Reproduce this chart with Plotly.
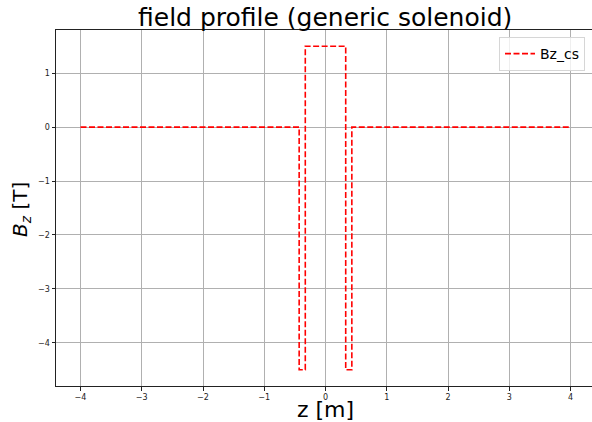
import plotly.graph_objects as go

z_vals = [-4.0, -0.43, -0.43, -0.33, -0.33, 0.33, 0.33, 0.43, 0.43, 4.0]
bz_vals = [0.0, 0.0, -4.5, -4.5, 1.5, 1.5, -4.5, -4.5, 0.0, 0.0]
x_ticks = [-4, -3, -2, -1, 0, 1, 2, 3, 4]
y_ticks = [-4, -3, -2, -1, 0, 1]

W, H = 597, 422
L, R, T, B = 56, 2, 30, 36

fig = go.Figure()
fig.add_trace(go.Scatter(x=z_vals, y=bz_vals, mode="lines", name="Bz_cs",
                         line=dict(color="red", width=1.6, dash="6px,2.5px")))

tickfont = dict(family="DejaVu Sans", size=8, color="#222")
axis_common = dict(showgrid=True, gridcolor="#b0b0b0", gridwidth=1, zeroline=False,
                   showline=True, linecolor="#222", linewidth=1, mirror=True,
                   ticks="outside", ticklen=3.5, tickcolor="#222", tickfont=tickfont,
                   automargin=False)

def px_x(p):
    return (p - L) / (W - L - R)

def px_y(p):
    return (H - B - p) / (H - T - B)

fig.update_layout(
    width=W, height=H,
    margin=dict(l=L, r=R, t=T, b=B, autoexpand=False),
    paper_bgcolor="white", plot_bgcolor="white",
    xaxis=dict(range=[-4.4, 4.4], tickvals=x_ticks,
               ticktext=[str(v).replace("-", "\u2212") for v in x_ticks],
               **axis_common),
    yaxis=dict(range=[-4.8, 1.8], tickvals=y_ticks,
               ticktext=[str(v).replace("-", "\u2212") for v in y_ticks],
               **axis_common),
    legend=dict(x=px_x(585), y=px_y(37), xanchor="right", yanchor="top",
                bgcolor="rgba(255,255,255,0.8)", bordercolor="#d6d6d6", borderwidth=1,
                font=dict(family="DejaVu Sans", size=14, color="black")),
    showlegend=True,
    annotations=[
        dict(text="field profile (generic solenoid)", xref="paper", yref="paper",
             x=px_x(325), y=px_y(17), xanchor="center", yanchor="middle", showarrow=False,
             font=dict(family="DejaVu Sans", size=25, color="black")),
        dict(text="z [m]", xref="paper", yref="paper",
             x=px_x(325), y=px_y(409), xanchor="center", yanchor="middle", showarrow=False,
             font=dict(family="DejaVu Sans", size=22, color="black")),
        dict(text="<i>B</i><sub><i>z</i></sub> [T]", xref="paper", yref="paper",
             x=px_x(21), y=px_y(210), xanchor="center", yanchor="middle", showarrow=False,
             textangle=-90,
             font=dict(family="DejaVu Sans", size=20, color="black")),
    ],
)
fig.write_html("out.html", config={"displayModeBar": False},
               post_script="document.body.style.margin='0';document.body.style.overflow='hidden';")
